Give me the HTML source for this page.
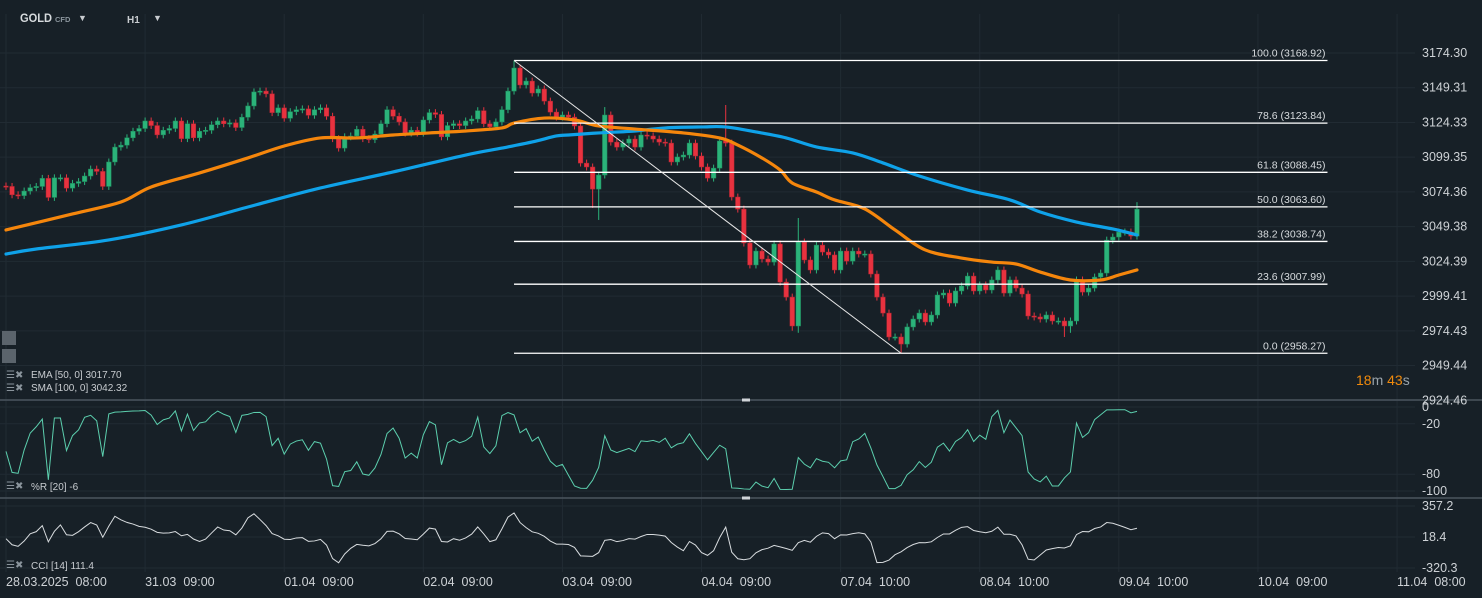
<!DOCTYPE html>
<html><head><meta charset="utf-8">
<style>
html,body{margin:0;padding:0;background:#172027;width:1482px;height:598px;overflow:hidden}
svg{display:block}
text{font-family:"Liberation Sans Narrow","Liberation Sans",sans-serif}
</style></head>
<body>
<svg id="chart" width="1482" height="598" viewBox="0 0 1482 598" xmlns="http://www.w3.org/2000/svg">
<rect x="0" y="0" width="1482" height="598" fill="#172027"/>
<g id="grid"></g>
<g id="candles"></g>
<g id="lines"></g>
<g id="fib"></g>
<g id="osc"></g>
<g id="axes"></g>

<g>
<text x="20" y="22" font-size="12" font-weight="bold" fill="#d6dadd" textLength="32" lengthAdjust="spacingAndGlyphs">GOLD</text>
<text x="55" y="22" font-size="7.5" font-weight="bold" fill="#8a949c">CFD</text>
<text x="78" y="21" font-size="9" fill="#c8ccd0">▼</text>
<text x="127" y="23" font-size="10" font-weight="bold" fill="#c8ccd0">H1</text>
<text x="153" y="21" font-size="9" fill="#c8ccd0">▼</text>
</g>
<rect x="2" y="331" width="14" height="14" fill="#5b646c"/>
<rect x="2" y="349" width="14" height="14" fill="#5b646c"/>
<g font-size="10" fill="#c8ccd0">
<text x="6" y="378" fill="#8a949c" font-size="10">☰✖</text>
<text x="31" y="378">EMA [50, 0] 3017.70</text>
<text x="6" y="391" fill="#8a949c" font-size="10">☰✖</text>
<text x="31" y="391">SMA [100, 0] 3042.32</text>
<text x="6" y="489" fill="#8a949c" font-size="10">☰✖</text>
<text x="31" y="490">%R [20] -6</text>
<text x="6" y="568" fill="#8a949c" font-size="10">☰✖</text>
<text x="31" y="569">CCI [14] 111.4</text>
</g>
<text x="1356" y="385" font-size="14"><tspan fill="#f08a0c">18</tspan><tspan fill="#9aa3aa">m </tspan><tspan fill="#f08a0c">43</tspan><tspan fill="#9aa3aa">s</tspan></text>
</svg>
<script>
const closes=[3078.3,3072.3,3071.7,3075.0,3077.4,3078.3,3084.1,3070.4,3084.5,3084.5,
3077.1,3080.5,3081.8,3085.8,3090.8,3089.1,3078.3,3095.9,3106.6,3108.0,
3113.3,3118.0,3120.0,3125.4,3122.1,3115.4,3118.7,3120.0,3125.4,3112.7,
3123.4,3113.3,3118.0,3118.7,3122.7,3125.4,3123.4,3124.0,3120.7,3128.1,
3136.2,3146.3,3146.9,3144.9,3131.4,3134.8,3127.4,3132.1,3133.5,3134.1,
3129.5,3133.5,3134.8,3128.8,3112.7,3105.9,3114.0,3114.6,3119.4,3112.7,
3112.0,3116.0,3123.4,3133.5,3128.8,3124.7,3116.7,3118.7,3116.7,3126.1,
3131.4,3130.1,3114.0,3122.1,3123.4,3122.1,3125.4,3126.8,3132.8,3123.4,
3121.3,3124.7,3133.5,3146.9,
3163.5,3151.3,3154.1,3145.5,3148.4,3139.7,3131.8,3128.2,3129.7,3128.2,
3121.8,3095.1,3092.3,3076.4,3086.5,3129.7,3110.2,3106.6,3109.5,3112.4,
3106.6,3115.3,3114.6,3112.4,3110.2,3109.5,3095.9,3099.5,3100.9,3109.5,
3100.2,3092.3,3084.3,3091.5,3111.0,3109.5,3070.7,3062.0,3037.6,3021.8,
3031.8,3026.1,3023.9,3036.9,3009.5,2998.7,2977.9,3038.3,3025.4,3018.2,
3036.1,3031.1,3029.0,3018.2,3031.8,3024.6,3031.8,3029.7,3029.7,3015.3,
2998.7,2987.2,2970.0,2970.0,2964.9,2977.2,2982.9,2987.2,2980.8,2985.8,
3000.2,3001.6,2994.4,3003.1,3006.7,3013.8,3003.1,3007.4,3003.8,3011.0,
3018.2,3001.6,3011.0,3005.2,3000.9,2985.1,2984.4,2982.9,2985.8,2981.5,
2981.5,2977.9,2981.5,3011.0,3002.3,3005.2,3013.1,3016.0,3039.7,3041.9,
3045.5,3045.5,3042.6,3062.0];
const firstOpen=3078.6;
const highOverrides={84:3168.9,99:3135.4,119:3136.9,131:3055.6,187:3067.0};
const lowOverrides={97:3062.8,98:3054.2,130:2974.5,131:2973.0,148:2958.3,175:2970.0,176:2973.0};
const emaIdx=[0,11,19,24,32,40,46,52,58,64,70,76,82,84,89,94,98,104,112,118,121,125,128,130,134,137,142,147,152,158,163,167,171,176,181,184,187];
const emaVals=[3047.0,3058.5,3067.1,3077.9,3088.0,3098.8,3107.4,3113.2,3113.2,3115.3,3116.8,3118.2,3120.4,3123.9,3127.5,3126.1,3121.8,3119.6,3116.8,3113.2,3108.1,3098.8,3090.1,3080.8,3074.3,3068.6,3062.1,3047.0,3032.6,3026.8,3023.9,3022.5,3016.7,3011.0,3011.0,3014.6,3018.2];
const smaIdx=[0,5,17,29,40,52,64,76,82,87,91,93,98,104,109,115,119,124,129,134,140,145,151,159,166,171,177,183,187];
const smaVals=[3029.7,3033.3,3039.8,3050.6,3063.5,3077.2,3088.7,3100.9,3105.9,3110.3,3114.6,3115.3,3116.8,3118.2,3120.4,3121.1,3121.1,3117.5,3113.2,3106.7,3102.4,3095.2,3085.8,3075.7,3068.6,3059.9,3052.7,3047.7,3043.4];
const priceTicks=["3174.30","3149.31","3124.33","3099.35","3074.36","3049.38","3024.39","2999.41","2974.43","2949.44","2924.46"];
const wrTicks=[0,-20,-80,-100];
const cciTicks=["357.2","18.4","-320.3"];
const dateLabels=["28.03.2025  08:00","31.03  09:00","01.04  09:00","02.04  09:00","03.04  09:00","04.04  09:00","07.04  10:00","08.04  10:00","09.04  10:00","10.04  09:00","11.04  08:00"];
const dateIdx=[0,23,46,69,92,115,138,161,184,207,230];
const fibPct=["100.0","78.6","61.8","50.0","38.2","23.6","0.0"];
const fibPrices=[3168.92,3123.84,3088.45,3063.60,3038.74,3007.99,2958.27];
const fibStartIdx=84, fibEndIdx=218.5, fibLowIdx=148;

const NS="http://www.w3.org/2000/svg";
function xI(i){return 6+i*6.048;}
function yP(p){return 53+(3174.3-p)*1.39;}
function yWR(v){return 407+(-v)*0.84;}
function yCCI(v){return 537-(v-18.4)*0.0915;}
function mk(tag,attrs,parent){const e=document.createElementNS(NS,tag);for(const k in attrs)e.setAttribute(k,attrs[k]);parent.appendChild(e);return e;}

const G=document.getElementById('grid'),C=document.getElementById('candles'),L=document.getElementById('lines'),F=document.getElementById('fib'),O=document.getElementById('osc'),A=document.getElementById('axes');

priceTicks.forEach(t=>{const y=yP(parseFloat(t));const l=mk('line',{x1:0,x2:1415,y1:y,y2:y,stroke:'#212b33','stroke-width':1},G);

});
dateIdx.forEach(i=>{const x=xI(i);const l=mk('line',{x1:x,x2:x,y1:14,y2:572,stroke:'#212b33','stroke-width':1},G);

});
wrTicks.forEach(v=>{const y=yWR(v);const l=mk('line',{x1:0,x2:1415,y1:y,y2:y,stroke:'#212b33'},G);

});
cciTicks.forEach(v=>{const y=yCCI(parseFloat(v));const l=mk('line',{x1:0,x2:1415,y1:y,y2:y,stroke:'#212b33'},G);

});

const opens=closes.map((c,i)=>i===0?firstOpen:closes[i-1]);
const highs=closes.map((c,i)=>highOverrides[i]!==undefined?highOverrides[i]:Math.max(c,opens[i])+2.5);
const lows=closes.map((c,i)=>lowOverrides[i]!==undefined?lowOverrides[i]:Math.min(c,opens[i])-2.5);
closes.forEach((c,i)=>{
  const o=opens[i],up=c>=o,col=up?'#2bb37a':'#e8323f',x=xI(i);
  const w=mk('line',{x1:x,x2:x,y1:yP(highs[i]),y2:yP(lows[i]),stroke:col,'stroke-width':1},C);
  
  
  const yt=yP(Math.max(o,c)),yb=yP(Math.min(o,c));
  const b=mk('rect',{x:x-2.3,y:yt,width:4.6,height:Math.max(1.2,yb-yt),fill:col,stroke:up?'#1f8a5c':'#b02733','stroke-width':0.5},C);
  
  
});

function smoothPath(pts){
  let d='M'+pts[0][0]+','+pts[0][1];
  for(let k=0;k<pts.length-1;k++){
    const p0=pts[Math.max(0,k-1)],p1=pts[k],p2=pts[k+1],p3=pts[Math.min(pts.length-1,k+2)];
    const c1x=p1[0]+(p2[0]-p0[0])/6,c1y=p1[1]+(p2[1]-p0[1])/6;
    const c2x=p2[0]-(p3[0]-p1[0])/6,c2y=p2[1]-(p3[1]-p1[1])/6;
    d+=' C'+c1x+','+c1y+' '+c2x+','+c2y+' '+p2[0]+','+p2[1];
  }
  return d;
}
function poly(idx,vals,col,name){
  const pts=idx.map((i,k)=>[xI(i),yP(vals[k])]);
  const p=mk('path',{d:smoothPath(pts),fill:'none',stroke:col,'stroke-width':3.2,'stroke-linejoin':'round','stroke-linecap':'round'},L);
  
  
}
poly(smaIdx,smaVals,'#0fa2e9','sma-100-line');
poly(emaIdx,emaVals,'#f5860c','ema-50-line');

fibPrices.forEach((p,k)=>{
  const y=yP(p);
  const l=mk('line',{x1:xI(fibStartIdx),x2:xI(fibEndIdx),y1:y,y2:y,stroke:'#ffffff','stroke-width':1.3},F);
  
  
  const t=mk('text',{x:xI(fibEndIdx)-2,y:y-4,'font-size':10.5,fill:'#d8dcdf','text-anchor':'end'},F);
  t.textContent=fibPct[k]+' ('+p.toFixed(2)+')';
  
  
});
const dg=mk('line',{x1:xI(fibStartIdx),y1:yP(fibPrices[0]),x2:xI(fibLowIdx),y2:yP(fibPrices[6]),stroke:'#e6e6e6','stroke-width':1},F);



[400,498].forEach((y,k)=>{
  const s=mk('line',{x1:0,x2:1482,y1:y,y2:y,stroke:'#4b555e','stroke-width':1.5},O);
  
  
  const h=mk('rect',{x:742,y:y-1.5,width:8,height:3,fill:'#d0d4d8'},O);
  
  
});

const wr=closes.map((c,i)=>{let hh=-1e9,ll=1e9;for(let j=Math.max(0,i-19);j<=i;j++){hh=Math.max(hh,highs[j]);ll=Math.min(ll,lows[j]);}return hh===ll?-50:(hh-c)/(hh-ll)*-100;});
const wrl=mk('polyline',{points:wr.map((v,i)=>xI(i)+','+yWR(v)).join(' '),fill:'none',stroke:'#5ccfae','stroke-width':1},O);



const tp=closes.map((c,i)=>(highs[i]+lows[i]+c)/3);
const cci=tp.map((v,i)=>{const s=Math.max(0,i-13),n=i-s+1;let m=0;for(let j=s;j<=i;j++)m+=tp[j];m/=n;let md=0;for(let j=s;j<=i;j++)md+=Math.abs(tp[j]-m);md/=n;return md===0?0:(v-m)/(0.015*md);});
const ccl=mk('polyline',{points:cci.map((v,i)=>xI(i)+','+Math.max(500,Math.min(570,yCCI(v)))).join(' '),fill:'none',stroke:'#d8dcdf','stroke-width':1},O);



priceTicks.forEach(t=>{const e=mk('text',{x:1422,y:yP(parseFloat(t))+4,'font-size':12.5,fill:'#ced2d6'},A);e.textContent=t;

});
wrTicks.forEach(v=>{const e=mk('text',{x:1422,y:yWR(v)+4,'font-size':12.5,fill:'#ced2d6'},A);e.textContent=String(v);

});
cciTicks.forEach(v=>{const e=mk('text',{x:1422,y:yCCI(parseFloat(v))+4,'font-size':12.5,fill:'#ced2d6'},A);e.textContent=v;

});
dateLabels.forEach((d,k)=>{const e=mk('text',{x:xI(dateIdx[k]),y:586,'font-size':12.5,fill:'#ced2d6','xml:space':'preserve'},A);e.textContent=d;e.style.whiteSpace='pre';

});
</script>
</body></html>
